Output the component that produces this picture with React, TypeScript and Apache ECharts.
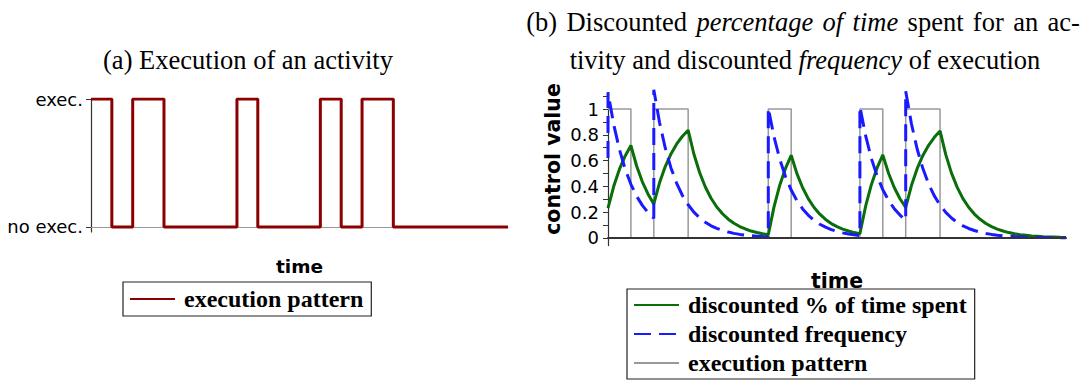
import React, { useEffect, useRef } from "react";
import * as echarts from "echarts";

// execution pattern: step changes (time, state) — 1 = exec., 0 = no exec.
const execTimes = [0, 2, 4, 7, 14, 16, 22, 24, 26, 29, 40];
const execState = [1, 0, 1, 0, 1, 0, 1, 0, 1, 0, 0];

// sampling times for the discounted % of time spent
const timeSteps = [
  0, 0.5, 1, 1.5, 2, 2.5, 3, 3.5, 4, 4.5, 5, 5.5, 6, 6.5, 7, 7.5, 8, 8.5, 9, 9.5,
  10, 10.5, 11, 11.5, 12, 12.5, 13, 13.5, 14, 14.5, 15, 15.5, 16, 16.5, 17, 17.5, 18, 18.5, 19, 19.5,
  20, 20.5, 21, 21.5, 22, 22.5, 23, 23.5, 24, 24.5, 25, 25.5, 26, 26.5, 27, 27.5, 28, 28.5, 29, 29.5,
  30, 30.5, 31, 31.5, 32, 32.5, 33, 33.5, 34, 34.5, 35, 35.5, 36, 36.5, 37, 37.5, 38, 38.5, 39, 39.5, 40,
];
const timeSpent = [
  0.23, 0.4, 0.533, 0.636, 0.717, 0.558, 0.435, 0.339, 0.264, 0.427, 0.554, 0.652, 0.729, 0.789, 0.836, 0.651, 0.507, 0.395, 0.308, 0.24,
  0.187, 0.145, 0.113, 0.088, 0.069, 0.053, 0.042, 0.032, 0.025, 0.241, 0.409, 0.539, 0.641, 0.499, 0.389, 0.303, 0.236, 0.184, 0.143, 0.111,
  0.087, 0.068, 0.053, 0.041, 0.032, 0.246, 0.413, 0.543, 0.644, 0.502, 0.391, 0.304, 0.237, 0.406, 0.537, 0.64, 0.719, 0.781, 0.83, 0.646,
  0.503, 0.392, 0.305, 0.238, 0.185, 0.144, 0.112, 0.087, 0.068, 0.053, 0.041, 0.032, 0.025, 0.02, 0.015, 0.012, 0.009, 0.007, 0.006, 0.004, 0.003,
];

// discounted frequency (time, value); jumps appear as two points at the same time
const frequency = [
  [0, 0.62], [0, 1.13], [0.5, 0.88], [1, 0.685], [1.5, 0.534], [2, 0.416], [2.5, 0.324], [3, 0.252], [3.5, 0.196], [4, 0.153],
  [4, 1.15], [4.5, 0.896], [5, 0.698], [5.5, 0.543], [6, 0.423], [6.5, 0.329], [7, 0.257], [7.5, 0.2], [8, 0.156], [8.5, 0.121],
  [9, 0.094], [9.5, 0.074], [10, 0.057], [10.5, 0.045], [11, 0.035], [11.5, 0.027], [12, 0.021], [12.5, 0.016], [13, 0.013], [13.5, 0.01],
  [14, 0.008], [14, 1.008], [14.5, 0.785], [15, 0.611], [15.5, 0.476], [16, 0.371], [16.5, 0.289], [17, 0.225], [17.5, 0.175], [18, 0.136],
  [18.5, 0.106], [19, 0.083], [19.5, 0.064], [20, 0.05], [20.5, 0.039], [21, 0.03], [21.5, 0.024], [22, 0.018], [22, 1.018], [22.5, 0.793],
  [23, 0.617], [23.5, 0.481], [24, 0.374], [24.5, 0.292], [25, 0.227], [25.5, 0.177], [26, 0.138], [26, 1.138], [26.5, 0.886], [27, 0.69],
  [27.5, 0.538], [28, 0.419], [28.5, 0.326], [29, 0.254], [29.5, 0.198], [30, 0.154], [30.5, 0.12], [31, 0.093], [31.5, 0.073], [32, 0.057],
  [32.5, 0.044], [33, 0.034], [33.5, 0.027], [34, 0.021], [34.5, 0.016], [35, 0.013], [35.5, 0.01], [36, 0.008], [37, 0.005], [38, 0.003],
  [39, 0.002], [40, 0.001],
];

const leftTicks = [0, 1];
const rightTicks = [0, 0.1, 0.2, 0.3, 0.4, 0.5, 0.6, 0.7, 0.8, 0.9, 1, 1.1];
const rightLabels = [0, 0.2, 0.4, 0.6, 0.8, 1];

const SERIF = "Liberation Serif";
const SANS = "DejaVu Sans";
const CLEAR = "rgba(0,0,0,0)";

export default function App() {
  const ref = useRef<HTMLDivElement>(null);
  useEffect(() => {
    if (!ref.current) return;
    const chart = echarts.init(ref.current, null, { renderer: "svg" });
    const execData = execTimes.map((t, i) => [t, execState[i]]);
    const spentData = timeSteps.map((t, i) => [t, timeSpent[i]]);
    const titleRich = {
      n: { fontFamily: SERIF, fontSize: 26.5, fill: "#000" },
      i: { fontFamily: SERIF, fontSize: 26.5, fontStyle: "italic", fill: "#000" },
      s: { fontFamily: SERIF, fontSize: 11, fill: "#000" },
    };
    const legendText = {
      fontFamily: SERIF,
      fontWeight: "bold",
      fontSize: 24,
      color: "#000",
      padding: [0, 0, 0, 4],
    };
    const option: any = {
      animation: false,
      grid: [
        { left: 91, top: 99, width: 417, height: 133 },
        { left: 608, top: 93.6, width: 458, height: 152 },
      ],
      xAxis: [
        {
          gridIndex: 0, type: "value", min: 0, max: 40,
          axisLine: { show: true, lineStyle: { color: "#999", width: 1 } },
          axisTick: { show: false }, axisLabel: { show: false }, splitLine: { show: false },
          name: "time", nameLocation: "middle", nameGap: 25,
          nameTextStyle: { fontFamily: SANS, fontWeight: "bold", fontSize: 18.5, color: "#000" },
        },
        {
          gridIndex: 1, type: "value", min: 0, max: 40, z: 5,
          axisLine: { show: true, lineStyle: { color: "#333", width: 2 } },
          axisTick: { show: false }, axisLabel: { show: false }, splitLine: { show: false },
          name: "time", nameLocation: "middle", nameGap: 25,
          nameTextStyle: { fontFamily: SANS, fontWeight: "bold", fontSize: 20.5, color: "#000" },
        },
      ],
      yAxis: [
        {
          gridIndex: 0, type: "value", min: -0.04, max: 1,
          axisLine: { show: true, onZero: false, lineStyle: { color: "#333", width: 1.2 } },
          axisTick: { show: true, customValues: leftTicks, length: 5, lineStyle: { color: "#333" } },
          axisLabel: {
            customValues: leftTicks, margin: 8, fontFamily: SANS, fontSize: 18, color: "#000",
            formatter: (v: number) => (v >= 0.5 ? "exec." : "no exec."),
          },
          splitLine: { show: false },
        },
        {
          gridIndex: 1, type: "value", min: -0.06, max: 1.12,
          axisLine: { show: true, onZero: false, lineStyle: { color: "#333", width: 1.2 } },
          axisTick: { show: true, customValues: rightTicks, length: 5, lineStyle: { color: "#333" } },
          axisLabel: {
            customValues: rightLabels, margin: 9, fontFamily: SANS, fontSize: 18, color: "#000",
            formatter: (v: number) => String(v),
          },
          splitLine: { show: false },
        },
      ],
      legend: [
        {
          data: ["execution pattern"], left: 123, top: 282, orient: "vertical",
          selectedMode: false, itemWidth: 45, itemHeight: 14, itemGap: 5,
          padding: [5, 8, 5, 6], borderColor: "#222", borderWidth: 1.2,
          textStyle: legendText,
        },
        {
          data: ["discounted % of time spent", "discounted frequency", "execution pattern#"],
          left: 627, top: 289, orient: "vertical",
          selectedMode: false, itemWidth: 45, itemHeight: 14, itemGap: 5,
          padding: [4, 8, 4, 6], borderColor: "#222", borderWidth: 1.2,
          textStyle: legendText,
          formatter: (name: string) => name.replace("#", ""),
        },
      ],
      graphic: [
        {
          type: "text", x: 248, y: 60,
          style: { text: "{n|(a) Execution of an activity}", rich: titleRich, align: "center", verticalAlign: "middle" },
        },
        {
          type: "text", x: 803, y: 22,
          style: {
            text: "{n|(b) }{s| }{n|Discounted }{s| }{i|percentage }{s| }{i|of }{s| }{i|time}{n| }{s| }{n|spent }{s| }{n|for }{s| }{n|an }{s| }{n|ac-}",
            rich: titleRich, align: "center", verticalAlign: "middle",
          },
        },
        {
          type: "text", x: 805, y: 60,
          style: {
            text: "{n|tivity and discounted }{i|frequency}{n| of execution}",
            rich: titleRich, align: "center", verticalAlign: "middle",
          },
        },
        {
          type: "text", x: 553, y: 159, rotation: Math.PI / 2,
          style: {
            text: "control value", fontFamily: SANS, fontWeight: "bold", fontSize: 20.5,
            fill: "#000", align: "center", verticalAlign: "middle",
          },
        },
      ],
      series: [
        {
          type: "line", name: "execution pattern", xAxisIndex: 0, yAxisIndex: 0,
          data: execData, step: "end", symbol: "none",
          lineStyle: { color: "#8b0000", width: 3 }, itemStyle: { color: CLEAR },
        },
        {
          type: "line", name: "execution pattern#", xAxisIndex: 1, yAxisIndex: 1,
          data: execData, step: "end", symbol: "none", clip: false,
          lineStyle: { color: "#999", width: 1.5 }, itemStyle: { color: CLEAR },
        },
        {
          type: "line", name: "discounted % of time spent", xAxisIndex: 1, yAxisIndex: 1,
          data: spentData, symbol: "none", clip: false,
          lineStyle: { color: "#0a6e0a", width: 3 }, itemStyle: { color: CLEAR },
        },
        {
          type: "line", name: "discounted frequency", xAxisIndex: 1, yAxisIndex: 1,
          data: frequency, symbol: "none", clip: false,
          lineStyle: { color: "#1a1aff", width: 3, type: [17, 8] }, itemStyle: { color: CLEAR },
        },
      ],
    };
    chart.setOption(option);
    return () => chart.dispose();
  }, []);
  return (
    <div
      ref={ref}
      style={{ position: "fixed", left: 0, top: 0, width: 1086, height: 381, background: "#fff" }}
    />
  );
}
